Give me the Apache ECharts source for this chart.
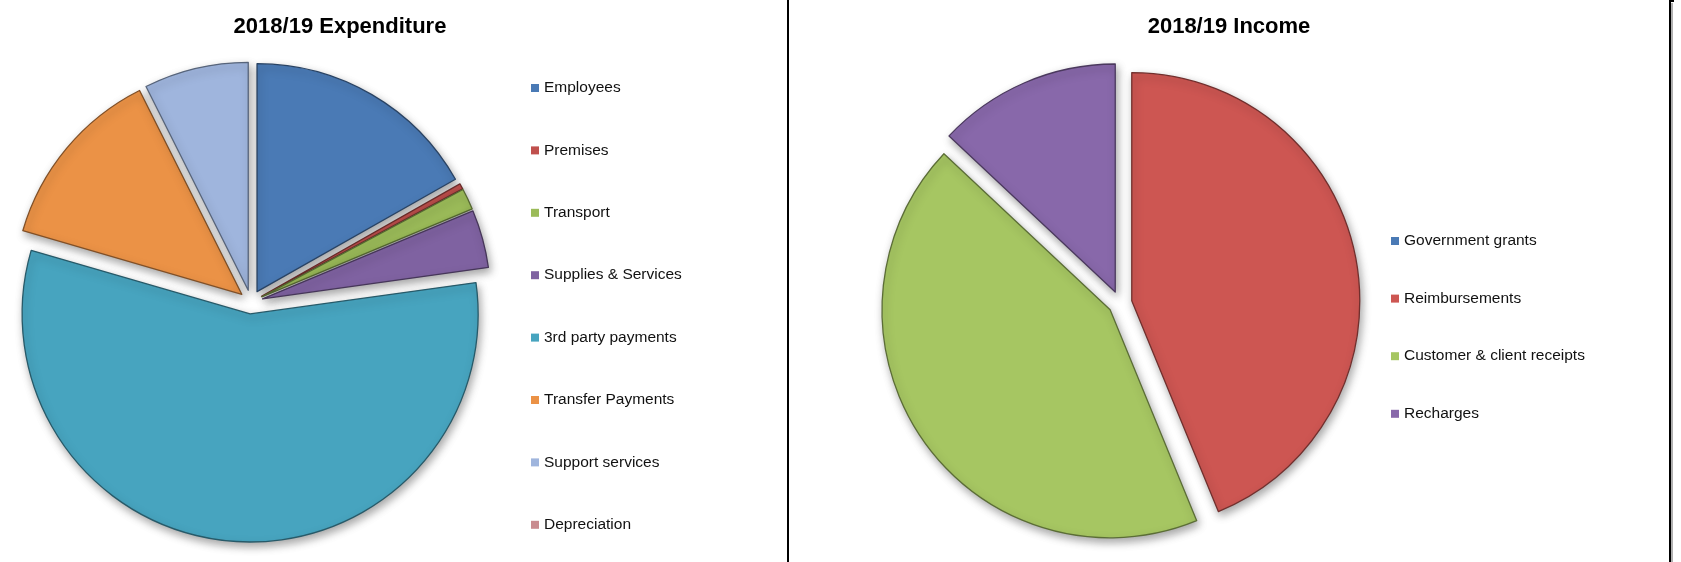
<!DOCTYPE html>
<html>
<head>
<meta charset="utf-8">
<title>2018/19 Expenditure and Income</title>
<script src="https://cdn.jsdelivr.net/npm/echarts@6/dist/echarts.min.js"></script>
<style>
  html, body { margin: 0; padding: 0; background: #ffffff; }
  #chart { width: 1681px; height: 562px; }
</style>
</head>
<body>
<div id="chart"></div>
<script>
// Expenditure breakdown (share of total, %)
const expenditureCategories = [
  'Employees', 'Premises', 'Transport', 'Supplies & Services',
  '3rd party payments', 'Transfer Payments', 'Support services', 'Depreciation'
];
const expenditureShares = [16.8, 0.4, 1.5, 4.1, 56.7, 13.1, 7.4, 0];
const expenditureColors = [
  '#4a7ab5', '#c0504d', '#9bbb59', '#7f62a1',
  '#47a4bf', '#eb9246', '#9fb5dd', '#c98b8f'
];

// Income breakdown (share of total, %)
const incomeCategories = [
  'Government grants', 'Reimbursements', 'Customer & client receipts', 'Recharges'
];
const incomeShares = [0, 43.8, 43.2, 13.0];
const incomeColors = ['#4a7ab5', '#cd5652', '#a6c662', '#8868aa'];

// darker edge colour for each slice outline
function shade(hex, f) {
  const n = parseInt(hex.slice(1), 16);
  const r = Math.round(((n >> 16) & 255) * f);
  const g = Math.round(((n >> 8) & 255) * f);
  const b = Math.round((n & 255) * f);
  return 'rgb(' + r + ',' + g + ',' + b + ')';
}

function sliceData(names, values, colors) {
  return names.map(function (name, i) {
    const empty = values[i] === 0;
    const style = {
      color: colors[i],
      borderColor: shade(colors[i], 0.55),
      borderWidth: empty ? 0 : 1.3,
      shadowBlur: empty ? 0 : 8,
      shadowOffsetX: 2,
      shadowOffsetY: 4,
      shadowColor: 'rgba(0,0,0,0.35)'
    };
    return {
      name: name,
      value: values[i],
      selected: true,
      itemStyle: style,
      select: { itemStyle: style }
    };
  });
}

function pieSeries(name, center, data) {
  return {
    type: 'pie',
    name: name,
    center: center,
    radius: 228,
    startAngle: 90,
    clockwise: true,
    selectedMode: 'multiple',
    selectedOffset: 12,
    avoidLabelOverlap: false,
    label: { show: false },
    labelLine: { show: false },
    emphasis: { disabled: true },
    data: data
  };
}

const legendText = {
  color: '#111111',
  fontFamily: 'Liberation Sans, Arial, sans-serif',
  fontSize: 15.5,
  lineHeight: 16
};

const legendMarker = { borderWidth: 0, shadowBlur: 0, shadowOffsetX: 0, shadowOffsetY: 0 };

const titleText = {
  fontFamily: 'Liberation Sans, Arial, sans-serif',
  fontSize: 22,
  fontWeight: 'bold',
  color: '#000'
};

const chart = echarts.init(document.getElementById('chart'), null, { renderer: 'canvas' });

chart.setOption({
  animation: false,
  backgroundColor: '#ffffff',
  title: [
    { text: '2018/19 Expenditure', left: 335, top: 11, textAlign: 'center', textStyle: titleText },
    { text: '2018/19 Income', left: 1224, top: 11, textAlign: 'center', textStyle: titleText }
  ],
  legend: [
    {
      data: expenditureCategories,
      orient: 'vertical',
      left: 531, top: 80, padding: 0,
      icon: 'rect', itemWidth: 8, itemHeight: 8,
      itemGap: 46.4,
      selectedMode: false,
      itemStyle: legendMarker,
      textStyle: legendText
    },
    {
      data: incomeCategories,
      orient: 'vertical',
      left: 1391, top: 233, padding: 0,
      icon: 'rect', itemWidth: 8, itemHeight: 8,
      itemGap: 41.6,
      selectedMode: false,
      itemStyle: legendMarker,
      textStyle: legendText
    }
  ],
  graphic: [
    { type: 'rect', shape: { x: 787, y: 0, width: 2, height: 562 }, style: { fill: '#000' }, silent: true },
    { type: 'rect', shape: { x: 1669, y: 0, width: 2, height: 562 }, style: { fill: '#000' }, silent: true },
    { type: 'rect', shape: { x: 1671, y: 3, width: 2, height: 559 }, style: { fill: '#b0b0b0' }, silent: true },
    { type: 'rect', shape: { x: 1669, y: 0, width: 5, height: 2 }, style: { fill: '#000' }, silent: true }
  ],
  series: [
    pieSeries('2018/19 Expenditure', [251, 302], sliceData(expenditureCategories, expenditureShares, expenditureColors)),
    pieSeries('2018/19 Income', [1120, 303], sliceData(incomeCategories, incomeShares, incomeColors))
  ]
});
</script>
</body>
</html>
